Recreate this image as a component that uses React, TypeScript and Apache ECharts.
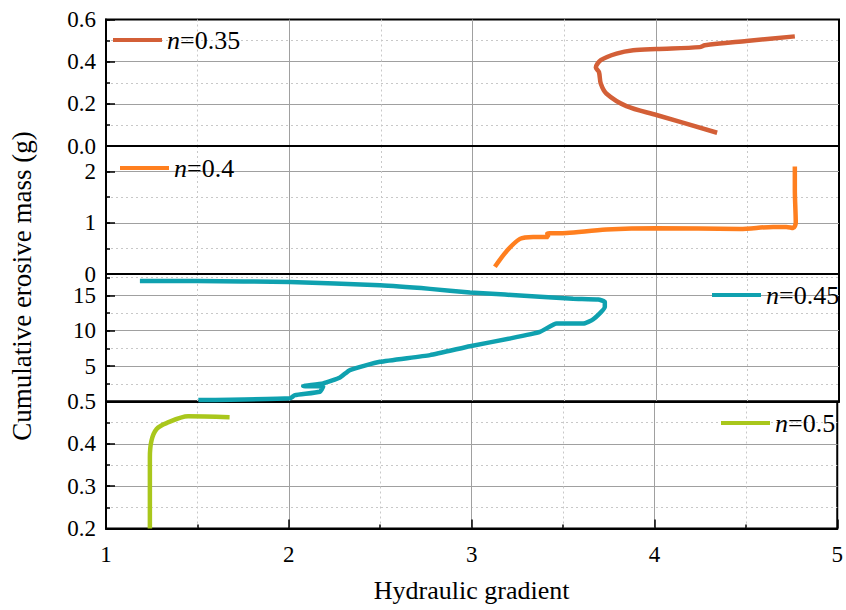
import React, { useEffect, useRef } from 'react';
import * as echarts from 'echarts';

const FONT = 'Liberation Serif';

const seriesNames = ['n=0.35', 'n=0.4', 'n=0.45', 'n=0.5'];
const seriesColors = ['#D35F37', '#FF7F1F', '#0FA1AF', '#A9C71C'];
const seriesSmooth = [0.3, 0.3, 0.15, 0.3];

// n = 0.35
const n035X = [4.335, 4.004, 3.84, 3.73, 3.70, 3.69, 3.673, 3.70, 3.786, 3.877, 4.004, 4.24, 4.268, 4.495, 4.759];
const n035Y = [0.063, 0.147, 0.189, 0.249, 0.296, 0.351, 0.372, 0.407, 0.438, 0.454, 0.46, 0.469, 0.478, 0.498, 0.52];

// n = 0.4
const n04X = [3.122, 3.186, 3.259, 3.331, 3.413, 3.408, 3.513, 3.73, 4.004, 4.459, 4.64, 4.713, 4.75, 4.764, 4.759, 4.759];
const n04Y = [0.14, 0.445, 0.686, 0.725, 0.725, 0.79, 0.80, 0.867, 0.893, 0.88, 0.92, 0.92, 0.90, 1.0, 1.65, 2.10];

// n = 0.45
const n045X = [1.504, 2.004, 2.031, 2.167, 2.185, 2.076, 2.185, 2.277, 2.331, 2.495, 2.768, 2.986, 3.204, 3.368, 3.459, 3.604, 3.659, 3.722, 3.722, 3.686, 3.549, 3.368, 2.986, 2.768, 2.495, 2.004, 1.495, 1.185];
const n045Y = [0.2, 0.45, 0.9, 1.38, 2.08, 2.18, 2.56, 3.4, 4.44, 5.6, 6.55, 7.8, 8.9, 9.83, 11.0, 11.0, 11.6, 13.35, 14.06, 14.4, 14.5, 14.8, 15.4, 15.9, 16.4, 16.87, 17.0, 17.0];

// n = 0.5
const n05X = [1.24, 1.24, 1.249, 1.277, 1.331, 1.449, 1.676];
const n05Y = [0.2, 0.368, 0.408, 0.435, 0.449, 0.465, 0.463];

const xTicks = [1, 2, 3, 4, 5];

const panelMin = [0, 0, 0, 0.2];
const panelMax = [0.6, 2.5, 18, 0.5];
const panelInterval = [0.2, 1, 5, 0.1];

const pair = (xs: number[], ys: number[]) => xs.map((x, i) => [x, ys[i]]);

const gridRects = [
  { top: 19.5, height: 126.5 },
  { top: 146, height: 128 },
  { top: 274, height: 127.5 },
  { top: 401.5, height: 127 },
];

const legendPos = [
  { left: 113, top: 27 },
  { left: 120, top: 155 },
  { left: 712, top: 282 },
  { left: 721, top: 410 },
];

const yFormatters = [
  (v: number) => v.toFixed(1),
  (v: number) => (v === 2.5 ? '' : String(v)),
  (v: number) => (v === 0 || v === 18 ? '' : String(v)),
  (v: number) => v.toFixed(1),
];

export default function App() {
  const ref = useRef<HTMLDivElement>(null);
  useEffect(() => {
    if (!ref.current) return;
    const chart = echarts.init(ref.current, undefined, { renderer: 'svg' });
    const data = [pair(n035X, n035Y), pair(n04X, n04Y), pair(n045X, n045Y), pair(n05X, n05Y)];

    const grid = gridRects.map((g) => ({
      left: 106,
      right: 7,
      top: g.top,
      height: g.height,
      show: true,
      borderColor: '#000',
      borderWidth: 2,
      backgroundColor: 'transparent',
    }));

    const xAxis = gridRects.map((_, i) => {
      const bottom = i === 3;
      return {
        type: 'value',
        gridIndex: i,
        min: 1,
        max: 5,
        interval: 1,
        position: 'bottom',
        axisLine: { show: true, onZero: false, lineStyle: { color: '#000', width: 2 } },
        axisTick: { show: bottom, inside: true, length: 9, lineStyle: { color: '#000', width: 1.5 } },
        minorTick: { show: bottom, splitNumber: 2, length: 4, lineStyle: { color: '#000', width: 1.5 } },
        axisLabel: {
          show: bottom,
          margin: 14,
          color: '#000',
          fontSize: 23,
          fontFamily: FONT,
          formatter: (v: number) => (xTicks.includes(v) ? String(v) : ''),
        },
        splitLine: { show: true, showMinLine: false, showMaxLine: false, lineStyle: { color: '#a0a0a0', width: 1 } },
        minorSplitLine: { show: true, lineStyle: { color: '#c8c8c8', width: 1, type: [2, 3] } },
        name: bottom ? 'Hydraulic gradient' : '',
        nameLocation: 'middle',
        nameGap: 49,
        nameTextStyle: { color: '#000', fontSize: 26, fontFamily: FONT },
      };
    });

    const yAxis: any[] = [];
    gridRects.forEach((_, i) => {
      // minor axis (dotted lines, short ticks)
      yAxis.push({
        type: 'value',
        gridIndex: i,
        position: 'left',
        min: panelMin[i],
        max: panelMax[i],
        interval: panelInterval[i] / 2,
        axisLine: { show: false, onZero: false },
        axisTick: { show: true, inside: true, length: 4, lineStyle: { color: '#000', width: 1.5 } },
        axisLabel: { show: false },
        splitLine: { show: true, showMinLine: false, showMaxLine: false, lineStyle: { color: '#c8c8c8', width: 1, type: [2, 3] } },
      });
      // major axis
      yAxis.push({
        type: 'value',
        gridIndex: i,
        position: 'left',
        min: panelMin[i],
        max: panelMax[i],
        interval: panelInterval[i],
        axisLine: { show: true, onZero: false, lineStyle: { color: '#000', width: 2 } },
        axisTick: { show: true, inside: true, length: 9, lineStyle: { color: '#000', width: 1.5 } },
        axisLabel: {
          show: true,
          margin: 10,
          color: '#000',
          fontSize: 23,
          lineHeight: 18,
          fontFamily: FONT,
          formatter: yFormatters[i],
        },
        splitLine: { show: true, showMinLine: false, showMaxLine: false, lineStyle: { color: '#a0a0a0', width: 1 } },
      });
    });

    const series = seriesNames.map((name, i) => ({
      name,
      type: 'line',
      xAxisIndex: i,
      yAxisIndex: i * 2 + 1,
      data: data[i],
      showSymbol: false,
      symbol: 'none',
      smooth: seriesSmooth[i],
      color: seriesColors[i],
      lineStyle: { color: seriesColors[i], width: 4.5 },
      clip: true,
      z: 5,
    }));

    const legend = seriesNames.map((name, i) => ({
      data: [name],
      left: legendPos[i].left,
      top: legendPos[i].top,
      padding: 0,
      icon: 'rect',
      itemWidth: 49,
      itemHeight: 4,
      selectedMode: false,
      formatter: (nm: string) => `{i|n}{r|${nm.slice(1)}}`,
      textStyle: {
        color: '#000',
        fontSize: 26,
        fontFamily: FONT,
        rich: {
          i: { fontStyle: 'italic', fontSize: 26, fontFamily: FONT, color: '#000' },
          r: { fontSize: 26, fontFamily: FONT, color: '#000' },
        },
      },
    }));

    chart.setOption({
      animation: false,
      backgroundColor: '#fff',
      textStyle: { fontFamily: FONT },
      grid,
      xAxis,
      yAxis,
      series,
      legend,
      graphic: [
        {
          type: 'text',
          x: 22,
          y: 286,
          rotation: Math.PI / 2,
          style: {
            text: 'Cumulative erosive mass (g)',
            font: `27px ${FONT}`,
            fill: '#000',
            textAlign: 'center',
            textVerticalAlign: 'middle',
          },
        },
      ],
    });
    return () => chart.dispose();
  }, []);
  return <div ref={ref} style={{ position: 'fixed', left: 0, top: 0, width: 846, height: 610 }} />;
}
